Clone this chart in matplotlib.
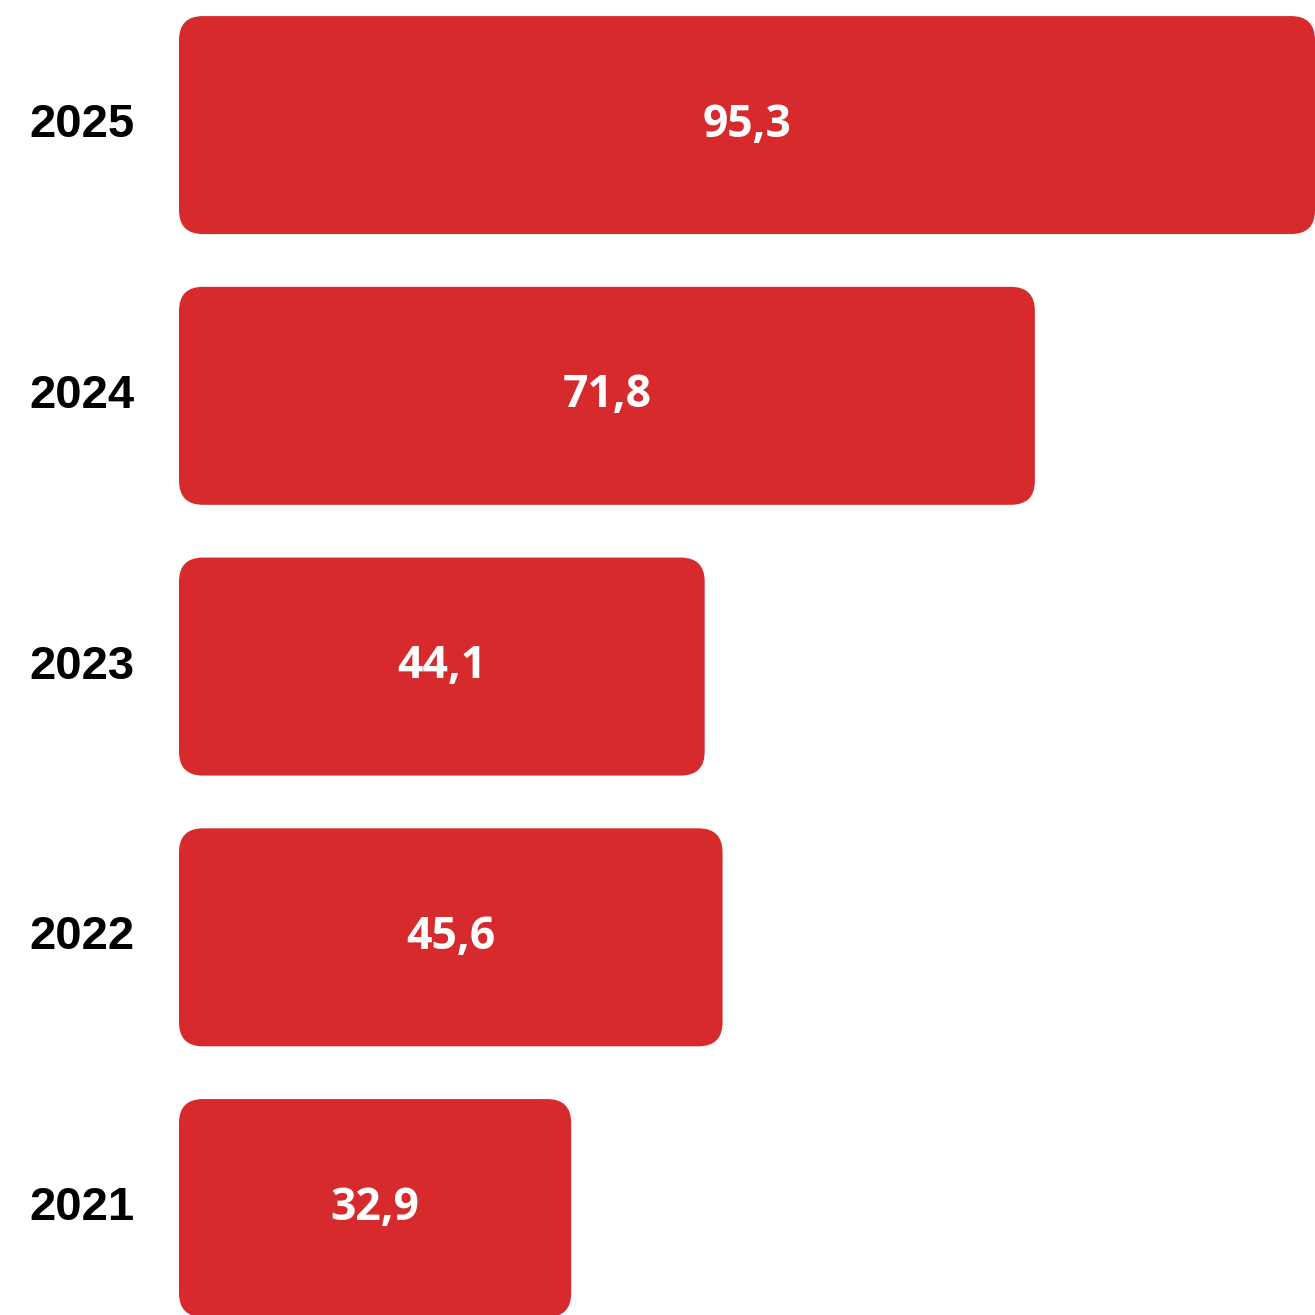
import matplotlib.pyplot as plt
from matplotlib.patches import FancyBboxPatch

# Données
years = ['2021', '2022', '2023', '2024', '2025']
values = [32.9, 45.6, 44.1, 71.8, 95.3]
labels = ['32,9', '45,6', '44,1', '71,8', '95,3']

couleur = '#d62a2d'

W = H = 1315
fig = plt.figure(figsize=(W / 100, H / 100), dpi=100)
x0 = 179
ax = fig.add_axes([x0 / W, 0, (W - x0) / W, 1])

xmax = 95.3
ylo, yhi = -0.395, 4.462
ax.set_xlim(0, xmax)
ax.set_ylim(ylo, yhi)
ax.axis('off')

px_x = (W - x0) / xmax          # pixels par unité x
px_y = H / (yhi - ylo)          # pixels par unité y
hauteur = 218 / px_y
rayon = 24 / px_x

for i, (yr, v, lab) in enumerate(zip(years, values, labels)):
    box = FancyBboxPatch((0, i - hauteur / 2), v, hauteur,
                         boxstyle='round,pad=0,rounding_size=%f' % rayon,
                         mutation_aspect=px_x / px_y,
                         fc=couleur, ec='none', clip_on=False)
    ax.add_patch(box)
    ax.text(v / 2, i, lab, color='white', fontsize=32, fontweight='bold',
            family=['Open Sans', 'DejaVu Sans'], ha='center', va='center')
    ax.text(-150 / px_x, i, yr, color='black', fontsize=34, fontweight='bold',
            family=['Liberation Sans', 'DejaVu Sans'], ha='left', va='center')

fig.savefig('out.png', dpi=100)
